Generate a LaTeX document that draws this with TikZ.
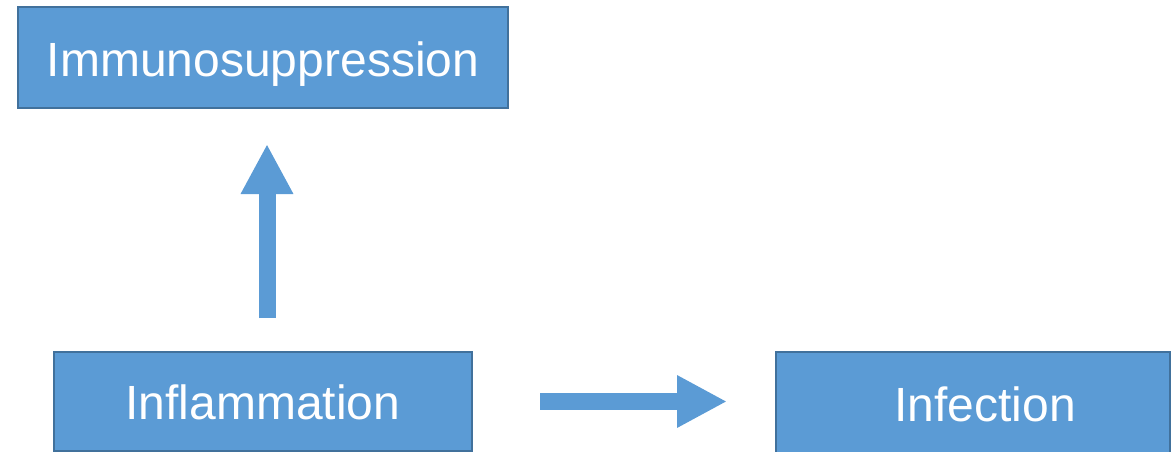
\documentclass[tikz,border=0pt]{standalone}
\usepackage{fontspec}
\setmainfont{Liberation Sans}
\usetikzlibrary{arrows.meta}
\definecolor{boxfill}{HTML}{5B9BD5}
\definecolor{boxline}{HTML}{41719C}
\begin{document}
\begin{tikzpicture}[x=1pt,y=-1pt,
  box/.style={draw=boxline, fill=boxfill, line width=2pt, inner sep=0pt,
    text=white, font=\fontsize{48}{58}\selectfont, text height=36.4pt, text depth=0pt},
  fatarrow/.style={draw=boxfill, line width=17pt,
    -{Triangle[width=49pt,length=50pt]}}]
\useasboundingbox (0,0) rectangle (1171,452);
\node[box, minimum width=490pt, minimum height=101pt] (imm) at (263,58) {Immunosuppression};
\node[box, minimum width=418pt, minimum height=99pt] (inf) at (263,401.5) {Inflammation};
\node[box, minimum width=394pt, minimum height=103pt] (infc) at (973,403.5) {\hspace*{24pt}Infection};
\coordinate (upS) at (267,318);
\coordinate (upT) at (267,144);
\coordinate (rtS) at (540,401.5);
\coordinate (rtT) at (727,401.5);
\draw[fatarrow] (upS) -- (upT);
\draw[fatarrow] (rtS) -- (rtT);
\end{tikzpicture}
\end{document}
